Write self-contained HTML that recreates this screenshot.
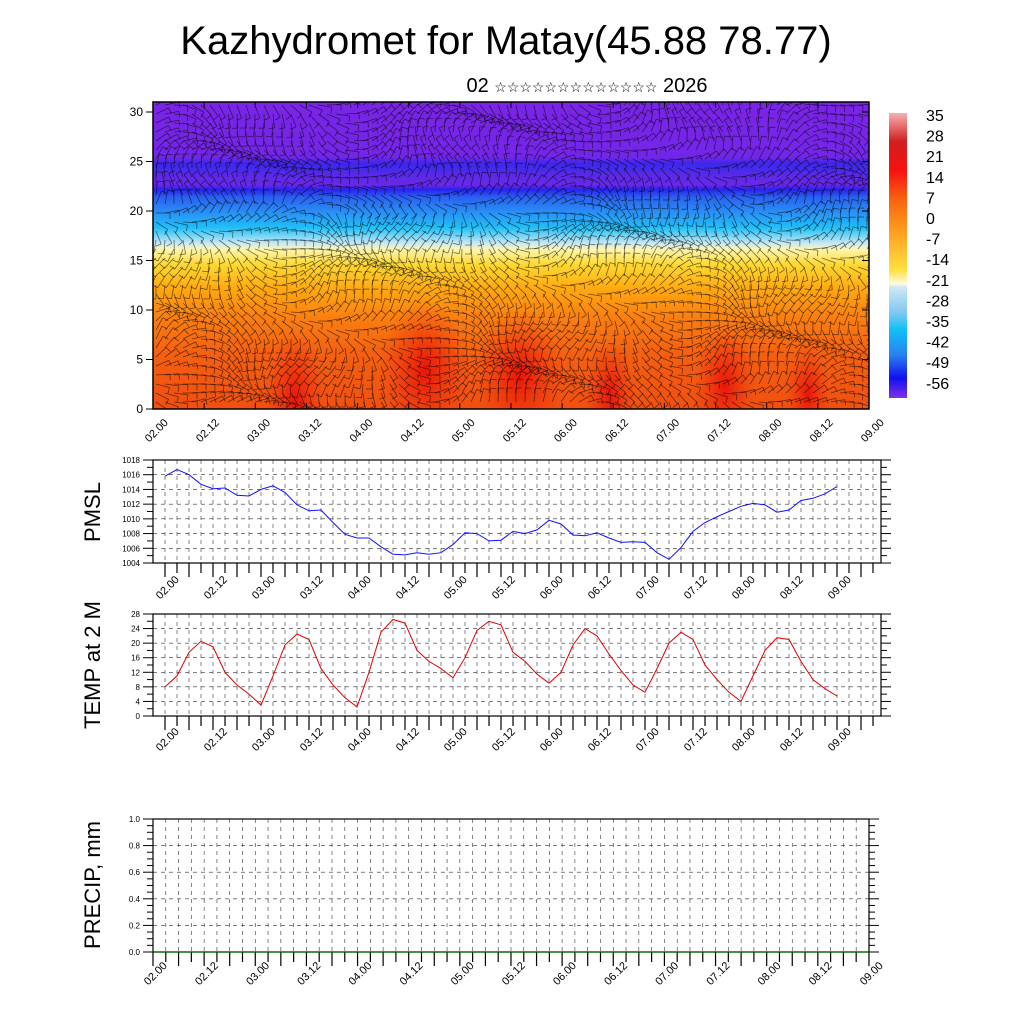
<!DOCTYPE html>
<html><head><meta charset="utf-8"><style>
body{margin:0;background:#fff}
svg{display:block;font-family:"Liberation Sans",sans-serif}
</style></head><body>
<svg id="s" width="1024" height="1024" viewBox="0 0 1024 1024" xmlns="http://www.w3.org/2000/svg">
<defs>
<linearGradient id="tg" x1="0" y1="0" x2="0" y2="1">
<stop offset="0" stop-color="#7a24e6"/>
<stop offset="0.18" stop-color="#7426e8"/>
<stop offset="0.2" stop-color="#3a28ee"/>
<stop offset="0.24" stop-color="#5a2ae8"/>
<stop offset="0.27" stop-color="#6a28e8"/>
<stop offset="0.285" stop-color="#2a22ee"/>
<stop offset="0.31" stop-color="#2a60f0"/>
<stop offset="0.36" stop-color="#2a90f5"/>
<stop offset="0.41" stop-color="#20c0f8"/>
<stop offset="0.46" stop-color="#c8e8f4"/>
<stop offset="0.48" stop-color="#fff6b0"/>
<stop offset="0.53" stop-color="#ffd830"/>
<stop offset="0.61" stop-color="#ffa810"/>
<stop offset="0.7" stop-color="#fa8010"/>
<stop offset="0.82" stop-color="#f46010"/>
<stop offset="1" stop-color="#f05010"/>
</linearGradient>
<linearGradient id="cb" x1="0" y1="0" x2="0" y2="1">
<stop offset="0" stop-color="#f8b0b0"/>
<stop offset="0.1" stop-color="#d02020"/>
<stop offset="0.2" stop-color="#f81010"/>
<stop offset="0.3" stop-color="#f86010"/>
<stop offset="0.42" stop-color="#ffa020"/>
<stop offset="0.55" stop-color="#ffe040"/>
<stop offset="0.6" stop-color="#fffae0"/>
<stop offset="0.61" stop-color="#d0e8f4"/>
<stop offset="0.7" stop-color="#80c8f0"/>
<stop offset="0.76" stop-color="#10c0f8"/>
<stop offset="0.85" stop-color="#2a80f0"/>
<stop offset="0.93" stop-color="#1010f0"/>
<stop offset="1" stop-color="#8030e8"/>
</linearGradient>
<radialGradient id="rb"><stop offset="0" stop-color="#e81008" stop-opacity="0.95"/><stop offset="1" stop-color="#f03010" stop-opacity="0"/></radialGradient>
<clipPath id="cp"><rect x="153" y="102" width="716" height="307"/></clipPath>
</defs>
<text x="506" y="54" font-size="40" text-anchor="middle">Kazhydromet for Matay(45.88 78.77)</text>
<text x="587" y="92" font-size="20" text-anchor="middle">02 <tspan font-size="14">☆☆☆☆☆☆☆☆☆☆☆☆☆</tspan> 2026</text>
<g clip-path="url(#cp)" id="top">
<rect x="153" y="102" width="716" height="307" fill="url(#tg)"/>
<ellipse cx="295" cy="400" rx="30" ry="70" fill="url(#rb)"/>
<ellipse cx="425" cy="370" rx="45" ry="70" fill="url(#rb)"/>
<ellipse cx="520" cy="375" rx="45" ry="65" fill="url(#rb)"/>
<ellipse cx="610" cy="395" rx="25" ry="55" fill="url(#rb)"/>
<ellipse cx="725" cy="385" rx="30" ry="60" fill="url(#rb)"/>
<ellipse cx="808" cy="395" rx="22" ry="50" fill="url(#rb)"/>
</g>
<rect x="153" y="102" width="716" height="307" fill="none" stroke="#000" stroke-width="1.5"/>
<rect x="889" y="113" width="18" height="285" fill="url(#cb)"/>
<g id="g"></g>
<text transform="translate(100,512) rotate(-90)" font-size="22" text-anchor="middle">PMSL</text>
<text transform="translate(100,665) rotate(-90)" font-size="22" text-anchor="middle">TEMP at 2 M</text>
<text transform="translate(100,885) rotate(-90)" font-size="22" text-anchor="middle">PRECIP, mm</text>
</svg>
<script>
var g=document.getElementById('g'),top_=document.getElementById('top'),o='';
function L(a,b,c,d,s,w,da){o+='<line x1="'+a+'" y1="'+b+'" x2="'+c+'" y2="'+d+'" stroke="'+s+'" stroke-width="'+w+'"'+(da?' stroke-dasharray="'+da+'"':'')+'/>';}
function T(x,y,t,fs,anc,rot){o+='<text x="'+x+'" y="'+y+'" font-size="'+fs+'" text-anchor="'+anc+'"'+(rot?' transform="rotate(-45 '+x+' '+y+')"':'')+'>'+t+'</text>';}
var b='';
for(var x=156;x<870;x+=9){for(var y=105;y<410;y+=9){
 var yy=(409-y)/9.9;
 var a=Math.sin(x*0.021+yy*0.3)*1.2+Math.cos(x*0.007-yy*0.5)*0.8+(yy>20?-0.3:0.4);
 var l=14,dx=Math.cos(a)*l,dy=Math.sin(a)*l;
 b+='<line x1="'+x+'" y1="'+y+'" x2="'+(x+dx).toFixed(1)+'" y2="'+(y+dy).toFixed(1)+'"/>';
 var px=x+dx, py=y+dy, fa=a+1.57;
 b+='<line x1="'+px.toFixed(1)+'" y1="'+py.toFixed(1)+'" x2="'+(px+Math.cos(fa)*6).toFixed(1)+'" y2="'+(py+Math.sin(fa)*6).toFixed(1)+'"/>';
}}
top_.innerHTML+='<g stroke="#000" stroke-opacity="0.55" stroke-width="0.8">'+b+'</g>';
var lab=['02.00','02.12','03.00','03.12','04.00','04.12','05.00','05.12','06.00','06.12','07.00','07.12','08.00','08.12','09.00'];
for(var v=0;v<=30;v+=5){var y=409-v*9.9;L(146,y,153,y,'#000',1);L(869,y,862,y,'#000',1);T(143,y+4,v,12,'end');}
for(var i=0;i<15;i++){var x=153+i*51.14;L(x,409,x,403,'#000',1);L(x,102,x,108,'#000',1);T(x+6,433,lab[i],11,'middle',1);}
var cl=['35','28','21','14','7','0','-7','-14','-21','-28','-35','-42','-49','-56'];
for(var i=0;i<14;i++)T(926,121+i*20.6,cl[i],16,'start');
function panel(t,bm,r,ymin,ymax,nmaj,nsub,data,col,fmt,xs,xstep,xl0,ly,nt){
 var h=bm-t;
 for(var k=0;k<=nt;k++){var x=xs+k*xstep/4;if(x<r-1)L(x,t,x,bm,'#333',0.6,'4,4');}
 for(var j=0;j<=nmaj*nsub;j++){var y=bm-j/(nmaj*nsub)*h;var maj=(j%nsub==0);var v=ymin+(ymax-ymin)*j/(nmaj*nsub);
  if(j>0&&j<nmaj*nsub&&maj)L(153,y,r,y,'#333',0.6,'4,4');
  L(maj?143:147,y,153,y,'#000',1);L(r,y,r+(maj?10:6),y,'#000',1);
  if(maj)T(140,y+3,fmt(v),8,'end');}
 o+='<rect x="153" y="'+t+'" width="'+(r-153)+'" height="'+h+'" fill="none" stroke="#000" stroke-width="1.2"/>';
 for(var k=0;k<=nt;k++){var x=xs+k*xstep/4;if(x<=r+1)L(x,bm,x,bm+(k%2==0?14:10),'#000',1.2);}
 for(var i=0;i<15;i++)T(xl0+i*xstep,ly,lab[i],11,'middle',1);
 if(data){var p='';for(var i=0;i<data.length;i++){p+=(165+i*12)+','+(bm-(data[i]-ymin)/(ymax-ymin)*h).toFixed(1)+' ';}
  o+='<polyline points="'+p+'" fill="none" stroke="'+col+'" stroke-width="1"/>';}
}
var pm=[1015.8,1016.7,1016,1014.7,1014.1,1014.2,1013.2,1013.1,1014,1014.5,1013.6,1011.9,1011.1,1011.2,1009.5,1007.9,1007.4,1007.4,1006.2,1005.2,1005.1,1005.4,1005.2,1005.4,1006.5,1008.1,1008,1007,1007.1,1008.3,1008,1008.5,1009.8,1009.3,1007.8,1007.7,1008.1,1007.4,1006.8,1006.9,1006.8,1005.4,1004.5,1006.1,1008.3,1009.5,1010.3,1011,1011.7,1012.1,1011.9,1010.9,1011.2,1012.5,1012.8,1013.4,1014.4];
var tm=[8,11,17.5,20.5,19,12,8.5,6,3,11,19.5,22.5,21,13,8.5,5,2.5,12,23,26.5,25.5,18,15,13,10.5,16,23.5,26,25,17.5,15,11.5,9,12,19.5,24,22,17,12.5,8.5,6.5,13,20,23,21,14,10,6.5,4,11,18,21.5,21,15,10,7.5,5.5];
panel(460,563,881,1004,1018,7,2,pm,'#1010ff',function(v){return v.toFixed(0)},165,48,170,590,60);
panel(614,716,881,0,28,7,2,tm,'#e00000',function(v){return v.toFixed(0)},165,48,170,742,60);
panel(819,952,869,0,1,5,4,null,'',function(v){return v.toFixed(1)},153,51.14,158,976,56);
L(153,952,869,952,'#060',1.2);
g.innerHTML=o;
</script>
</body></html>
